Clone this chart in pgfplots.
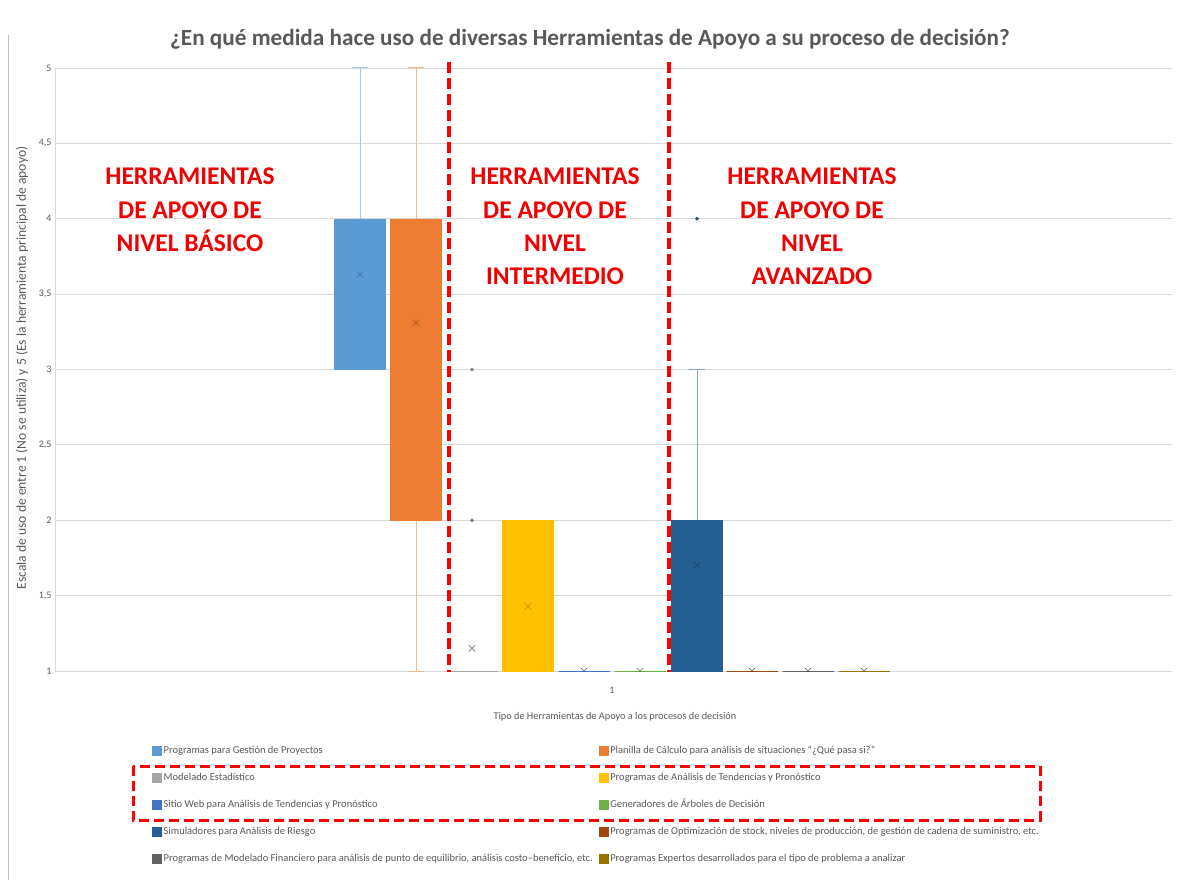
\documentclass[border=0pt]{standalone}
\usepackage{pgfplots}
\pgfplotsset{compat=1.18}
\usepgfplotslibrary{statistics}
\usepackage{fontspec}
\setmainfont{Carlito}
\definecolor{c1}{HTML}{5B9BD5}
\definecolor{c2}{HTML}{ED7D31}
\definecolor{c3}{HTML}{A5A5A5}
\definecolor{c4}{HTML}{FFC000}
\definecolor{c5}{HTML}{4472C4}
\definecolor{c6}{HTML}{70AD47}
\definecolor{c7}{HTML}{255E91}
\definecolor{c8}{HTML}{9E480E}
\definecolor{c9}{HTML}{636363}
\definecolor{c10}{HTML}{997300}
\definecolor{txt}{HTML}{595959}
\definecolor{gridc}{HTML}{D9D9D9}
\definecolor{annot}{HTML}{F00000}
\pgfplotsset{
  mybox/.style={
    boxplot/draw direction=y,
    boxplot/box extend=51,
    boxplot/whisker extend=16,
    boxplot/every box/.style={fill=#1, draw=#1},
    boxplot/every whisker/.style={draw=#1!55, line width=1pt},
    boxplot/every median/.style={draw=#1},
    mark=*, mark size=1.6pt, mark options={fill=#1!75!black, draw=#1!75!black},
    legend image code/.code={\fill[#1] (0pt,-4.5pt) rectangle (9pt,4.5pt);},
  },
  avg/.style={forget plot, only marks, mark=x, mark size=4.5pt,
    mark options={draw=#1!65!black, line width=0.6pt, draw opacity=0.85}},
}
\begin{document}
\begin{tikzpicture}[x=1pt,y=1pt]
\useasboundingbox (0,0) rectangle (1177,887);
\draw[gray!50, line width=1pt] (8,852) -- (8,7);
\node[anchor=base, font=\bfseries\fontsize{23.2}{27}\selectfont, text=txt] at (590,841) {¿En qué medida hace uso de diversas Herramientas de Apoyo a su proceso de decisión?};
\begin{axis}[
  at={(55pt,216pt)}, anchor=south west,
  scale only axis, width=1117pt, height=603pt,
  xmin=55, xmax=1172, ymin=1, ymax=5,
  axis lines*=left,
  axis line style={draw=gridc, line width=0.8pt, -},
  ymajorgrids, xmajorgrids=false, grid style={draw=gridc, line width=0.8pt},
  major tick length=0pt,
  ytick={1,1.5,2,2.5,3,3.5,4,4.5,5},
  yticklabels={1,{1,5},2,{2,5},3,{3,5},4,{4,5},5},
  xtick={612}, xticklabels={1},
  tick style={draw=none},
  tick label style={font=\fontsize{10}{12}\selectfont, text=txt},
  xticklabel style={anchor=center, yshift=-19pt},
  ylabel={Escala de uso de entre 1 (No se utiliza) y 5 (Es la herramienta principal de apoyo)},
  ylabel style={at={(axis description cs:-0.0295,0.5025)}, anchor=center, font=\fontsize{13.6}{15}\selectfont, text=txt},
  xlabel={Tipo de Herramientas de Apoyo a los procesos de decisión},
  xlabel style={at={(axis description cs:0.5013,-0.0763)}, anchor=center, font=\fontsize{10.3}{12}\selectfont, text=txt},
  legend columns=2,
  legend cell align=left,
  legend style={draw=none, fill=none, at={(axis description cs:0.0869,-0.120)}, anchor=north west,
    font=\fontsize{10.5}{12}\selectfont, text=txt, inner sep=0pt,
    nodes={text height=8pt, text depth=2.5pt},
    row sep=12.5pt,
    /tikz/every even column/.append style={column sep=4pt}},
  clip marker paths=true,
]
\addplot[mybox=c1, boxplot prepared={draw position=360, lower whisker=3, lower quartile=3, median=4, upper quartile=4, upper whisker=5}] coordinates {};
\addlegendentry{Programas para Gestión de Proyectos}
\addplot[mybox=c2, boxplot prepared={draw position=416, lower whisker=1, lower quartile=2, median=4, upper quartile=4, upper whisker=5}] coordinates {};
\addlegendentry{Planilla de Cálculo para análisis de situaciones “¿Qué pasa si?”}
\addplot[mybox=c3, boxplot prepared={draw position=472, lower whisker=1, lower quartile=1, median=1, upper quartile=1, upper whisker=1}] coordinates {(0,3) (0,2)};
\addlegendentry{Modelado Estadístico}
\addplot[mybox=c4, boxplot prepared={draw position=528, lower whisker=1, lower quartile=1, median=1, upper quartile=2, upper whisker=2}] coordinates {};
\addlegendentry{Programas de Análisis de Tendencias y Pronóstico}
\addplot[mybox=c5, boxplot prepared={draw position=584, lower whisker=1, lower quartile=1, median=1, upper quartile=1, upper whisker=1}] coordinates {};
\addlegendentry{Sitio Web para Análisis de Tendencias y Pronóstico}
\addplot[mybox=c6, boxplot prepared={draw position=640, lower whisker=1, lower quartile=1, median=1, upper quartile=1, upper whisker=1}] coordinates {};
\addlegendentry{Generadores de Árboles de Decisión}
\addplot[mybox=c7, boxplot prepared={draw position=697, lower whisker=1, lower quartile=1, median=1, upper quartile=2, upper whisker=3}] coordinates {(0,4)};
\addlegendentry{Simuladores para Análisis de Riesgo}
\addplot[mybox=c8, boxplot prepared={draw position=752, lower whisker=1, lower quartile=1, median=1, upper quartile=1, upper whisker=1}] coordinates {};
\addlegendentry{Programas de Optimización de stock, niveles de producción, de gestión de cadena de suministro, etc.}
\addplot[mybox=c9, boxplot prepared={draw position=808, lower whisker=1, lower quartile=1, median=1, upper quartile=1, upper whisker=1}] coordinates {};
\addlegendentry{Programas de Modelado Financiero para análisis de punto de equilibrio, análisis costo–beneficio, etc.}
\addplot[mybox=c10, boxplot prepared={draw position=864, lower whisker=1, lower quartile=1, median=1, upper quartile=1, upper whisker=1}] coordinates {};
\addlegendentry{Programas Expertos desarrollados para el tipo de problema a analizar}
% averages (mean markers)
\addplot[avg=c1] coordinates {(360,3.63)};
\addplot[avg=c2] coordinates {(416,3.31)};
\addplot[avg=c3] coordinates {(472,1.15)};
\addplot[avg=c4] coordinates {(528,1.43)};
\addplot[avg=c5] coordinates {(584,1)};
\addplot[avg=c6] coordinates {(640,1)};
\addplot[avg=c7] coordinates {(697,1.70)};
\addplot[avg=c8] coordinates {(752,1)};
\addplot[avg=c9] coordinates {(808,1)};
\addplot[avg=c10] coordinates {(864,1)};
\end{axis}
\draw[red, line width=4pt, dash pattern=on 11pt off 5pt] (449,825) -- (449,215);
\draw[red, line width=4pt, dash pattern=on 11pt off 5pt] (669,825) -- (669,215);
\draw[red, line width=3pt, dash pattern=on 10pt off 5pt] (133,121) rectangle (1040,67);
\begin{scope}[every node/.style={anchor=north, align=center, inner sep=0pt, text=annot, font=\bfseries\fontsize{25.5}{33.3}\selectfont}]
\node at (190,719) {HERRAMIENTAS\\DE APOYO DE\\NIVEL BÁSICO};
\node at (555,719) {HERRAMIENTAS\\DE APOYO DE\\NIVEL\\INTERMEDIO};
\node at (812,719) {HERRAMIENTAS\\DE APOYO DE\\NIVEL\\AVANZADO};
\end{scope}
\end{tikzpicture}
\end{document}
